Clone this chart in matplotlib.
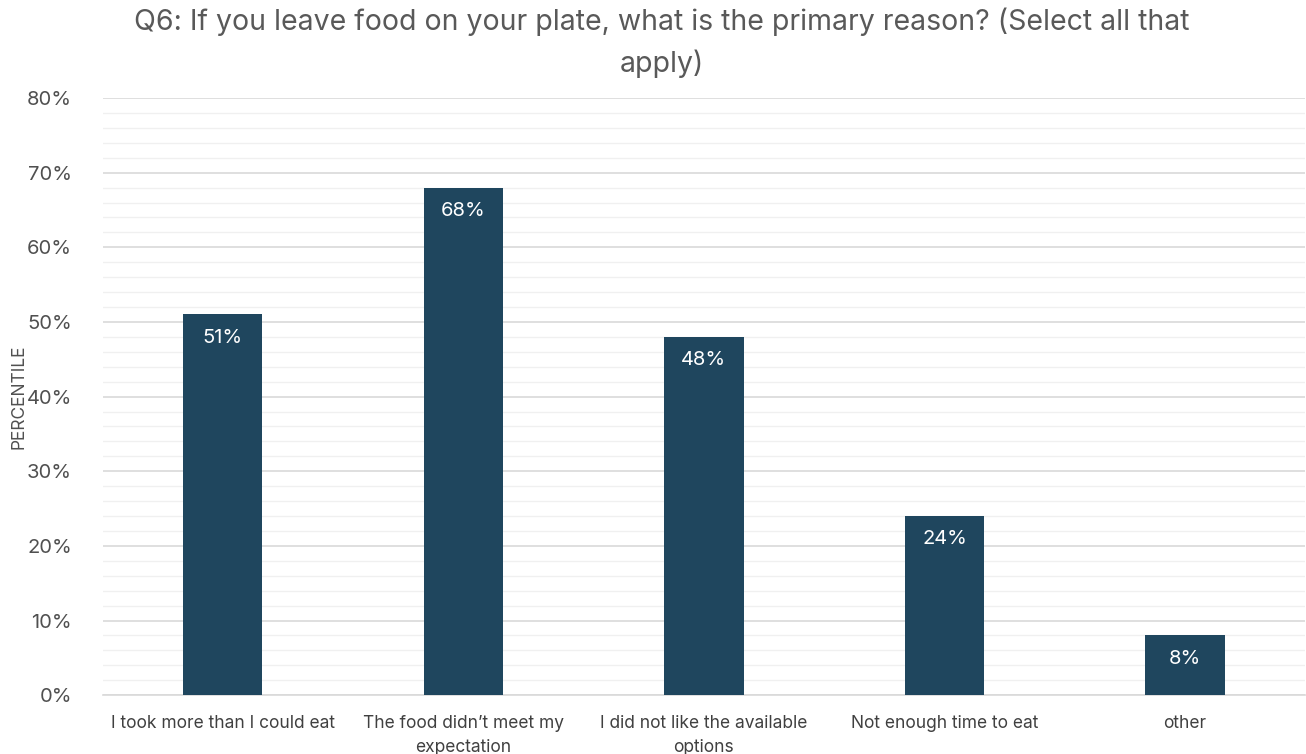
import matplotlib.pyplot as plt
from matplotlib.ticker import MultipleLocator, PercentFormatter

plt.rcParams['font.family'] = ['Inter', 'DejaVu Sans']

categories = ['I took more than I could eat', 'The food didn\u2019t meet my\nexpectation',
              'I did not like the available\noptions', 'Not enough time to eat', 'other']
values = [51, 68, 48, 24, 8]

fig = plt.figure(figsize=(13.06, 7.54), dpi=100)
ax = fig.add_axes([0.0785, 0.078, 0.921, 0.792])

x = range(len(categories))
bars = ax.bar(x, values, width=0.33, color='#1F465E', zorder=3)

# value labels inside bar tops
for b, v in zip(bars, values):
    ax.text(b.get_x() + b.get_width() / 2, v - 1.9, f'{v}%', ha='center', va='top',
            color='white', fontsize=14.5)

ax.set_xlim(-0.5, len(categories) - 0.5)
ax.set_ylim(0, 80)
ax.yaxis.set_major_locator(MultipleLocator(10))
ax.yaxis.set_minor_locator(MultipleLocator(2))
ax.yaxis.set_major_formatter(PercentFormatter(decimals=0))
ax.grid(which='major', axis='y', color='#D9D9D9', linewidth=1.2, zorder=0)
ax.grid(which='minor', axis='y', color='#F0F0F0', linewidth=1.0, zorder=0)
ax.tick_params(axis='both', which='both', length=0)
ax.tick_params(axis='y', labelsize=14.5, labelcolor='#505050', pad=22)
ax.tick_params(axis='x', labelsize=12.5, labelcolor='#404040', pad=14)
ax.set_xticks(list(x))
ax.set_xticklabels(categories, linespacing=1.55)

for s in ['top', 'right', 'left']:
    ax.spines[s].set_visible(False)
ax.spines['bottom'].set_color('#D9D9D9')
ax.spines['bottom'].set_linewidth(1.2)

ax.set_ylabel('PERCENTILE', fontsize=12.5, color='#505050')
ax.yaxis.set_label_coords(-0.062, 0.5)

fig.suptitle('Q6: If you leave food on your plate, what is the primary reason? (Select all that\napply)',
             fontsize=20.5, color='#595959', x=0.507, y=0.99, linespacing=1.6)

fig.savefig('out.png', dpi=100)
